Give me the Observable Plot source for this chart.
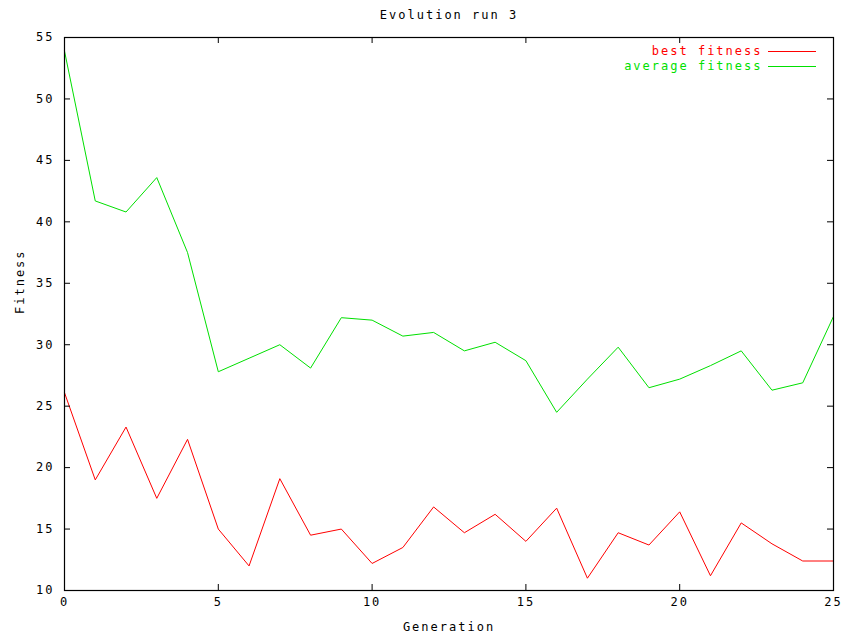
<!DOCTYPE html>
<html>
<head>
<meta charset="utf-8">
<script src="https://cdn.jsdelivr.net/npm/d3@7"></script>
<script src="https://cdn.jsdelivr.net/npm/@observablehq/plot@0.6"></script>
<style>
  html, body { margin: 0; padding: 0; background: #fff; }
</style>
</head>
<body>
<div id="chart"></div>
<script>
const generations = [0,1,2,3,4,5,6,7,8,9,10,11,12,13,14,15,16,17,18,19,20,21,22,23,24,25];
const bestFitness = [26.1,19.0,23.3,17.5,22.3,15.0,12.0,19.1,14.5,15.0,12.2,13.5,16.8,14.7,16.2,14.0,16.7,11.0,14.7,13.7,16.4,11.2,15.5,13.8,12.4,12.4];
const averageFitness = [53.9,41.7,40.8,43.6,37.5,27.8,28.9,30.0,28.1,32.2,32.0,30.7,31.0,29.5,30.2,28.7,24.5,27.2,29.8,26.5,27.2,28.3,29.5,26.3,26.9,32.3];
const seriesNames = ["best fitness", "average fitness"];
const seriesColors = ["#ff0000", "#00e000"];
const xTicks = [0,5,10,15,20,25];
const yTicks = [10,15,20,25,30,35,40,45,50,55];
const titleText = "Evolution run 3";
const xLabel = "Generation";
const yLabel = "Fitness";

const rows = [];
generations.forEach((g, i) => {
  rows.push({gen: g, value: bestFitness[i], series: seriesNames[0]});
  rows.push({gen: g, value: averageFitness[i], series: seriesNames[1]});
});

const W = 842, H = 634, mT = 37, mL = 64, mR = 9, mB = 44;
const iw = W - mL - mR, ih = H - mT - mB, tk = 6;

// legend sample lines (layout only)
function legendLines(index, scales, values, dimensions) {
  const g = d3.create("svg:g");
  seriesNames.forEach((s, i) => {
    const y = dimensions.marginTop + 14 + i * 15 + 0.5;
    const x2 = dimensions.width - dimensions.marginRight - 17;
    g.append("line")
      .attr("x1", x2 - 48).attr("x2", x2)
      .attr("y1", y).attr("y2", y)
      .attr("stroke", scales.color(s)).attr("stroke-width", 1);
  });
  return g.node();
}

const chart = Plot.plot({
  width: W, height: H,
  marginTop: mT, marginLeft: mL, marginRight: mR, marginBottom: mB,
  x: {domain: [0, 25]},
  y: {domain: [10, 55]},
  color: {domain: seriesNames, range: seriesColors},
  style: {fontFamily: "'DejaVu Sans Mono', monospace", fontSize: "12px", letterSpacing: "2px", background: "#fff", color: "#000"},
  marks: [
    Plot.line(rows, {x: "gen", y: "value", z: "series", stroke: "series", strokeWidth: 1}),
    Plot.frame({stroke: "#000", strokeWidth: 1.2}),
    Plot.tickY(yTicks, {y: d => d, insetRight: iw - tk, stroke: "#000"}),
    Plot.tickY(yTicks, {y: d => d, insetLeft: iw - tk, stroke: "#000"}),
    Plot.tickX(xTicks, {x: d => d, insetTop: ih - tk, stroke: "#000"}),
    Plot.tickX(xTicks, {x: d => d, insetBottom: ih - tk, stroke: "#000"}),
    Plot.axisY({ticks: yTicks, tickSize: 0, tickPadding: 10, label: null, tickFormat: d => String(d), fill: "#000"}),
    Plot.axisX({ticks: xTicks, tickSize: 0, tickPadding: 7, label: null, tickFormat: d => String(d), fill: "#000"}),
    Plot.text([titleText], {frameAnchor: "top", lineAnchor: "middle", dy: -22, fill: "#000"}),
    Plot.text([xLabel], {frameAnchor: "bottom", lineAnchor: "middle", dy: 37, fill: "#000"}),
    Plot.text([yLabel], {frameAnchor: "left", dx: -44, rotate: -90, fill: "#000"}),
    Plot.text([seriesNames[0]], {fill: seriesColors[0], frameAnchor: "top-right", lineAnchor: "middle", textAnchor: "end", dx: -71, dy: 14}),
    Plot.text([seriesNames[1]], {fill: seriesColors[1], frameAnchor: "top-right", lineAnchor: "middle", textAnchor: "end", dx: -71, dy: 29}),
    legendLines
  ]
});
document.getElementById("chart").appendChild(chart);
</script>
</body>
</html>
